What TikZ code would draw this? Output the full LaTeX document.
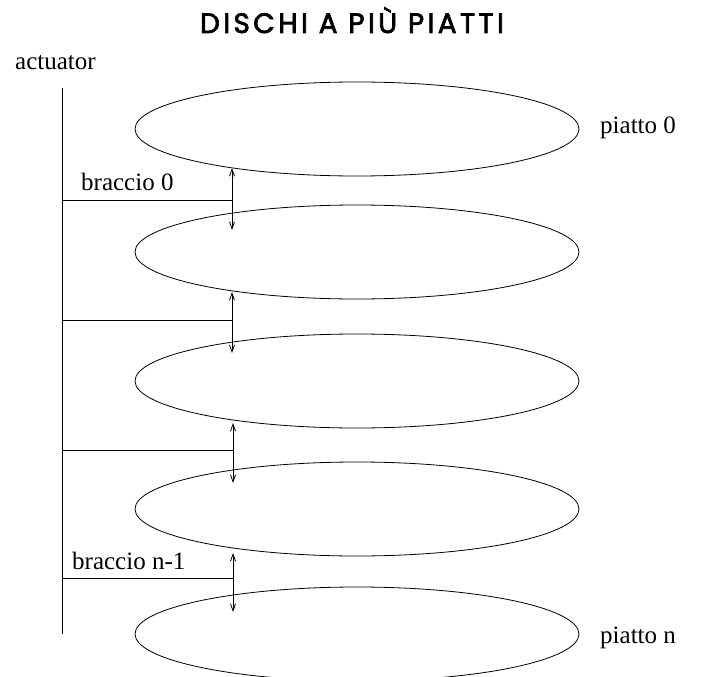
\documentclass[tikz,border=0pt]{standalone}
\usepackage{fontspec}
\setmainfont{Liberation Serif}
\newfontfamily\titlefont[LetterSpace=12,FakeBold=2.5]{Poppins}
\usetikzlibrary{shapes.geometric,arrows.meta}

\begin{document}
\begin{tikzpicture}[x=1pt, y=-1pt,
  disc/.style={draw, ellipse, line width=0.8pt, minimum width=444pt, minimum height=94pt, inner sep=0pt},
  arm/.style={line width=0.8pt},
  gap/.style={{Straight Barb[length=7pt,width=5pt]}-{Straight Barb[length=7pt,width=5pt]}, line width=0.8pt},
  lbl/.style={font=\fontsize{25}{30}\selectfont, anchor=base west, inner sep=0pt}
]
\useasboundingbox (0,0) rectangle (704,677);

\node[font=\titlefont\fontsize{28}{33}\selectfont, anchor=base, inner sep=0pt] (title) at (352,33) {DISCHI A PIÙ PIATTI};

% platters
\node[disc] (p0) at (357,129) {};
\node[disc] (p1) at (357,252) {};
\node[disc] (p2) at (357,381) {};
\node[disc] (p3) at (357,509) {};
\node[disc] (p4) at (357,634) {};

\node[lbl] (lp0) at (600,133) {piatto 0};
\node[lbl] (lpn) at (600,643) {piatto n};

% actuator and arms
\node[lbl] (act) at (15,70) {actuator};
\coordinate (atop) at (62,88);
\coordinate (abot) at (62,634);
\draw[arm] (atop) -- (abot);

\coordinate (a0) at (62,200);  \coordinate (h0) at (232,200);
\coordinate (a1) at (62,320);  \coordinate (h1) at (232,320);
\coordinate (a2) at (63,450);  \coordinate (h2) at (233,450);
\coordinate (a3) at (62,578);  \coordinate (h3) at (233,578);
\draw[arm] (a0) -- (h0);
\draw[arm] (a1) -- (h1);
\draw[arm] (a2) -- (h2);
\draw[arm] (a3) -- (h3);

\node[lbl] (b0) at (81,190) {braccio 0};
\node[lbl] (bn) at (72,569) {braccio n-1};

% head travel
\coordinate (g0a) at (232,168); \coordinate (g0b) at (232,230);
\coordinate (g1a) at (232,292); \coordinate (g1b) at (232,353);
\coordinate (g2a) at (233,423); \coordinate (g2b) at (233,483);
\coordinate (g3a) at (233,553); \coordinate (g3b) at (233,612);
\draw[gap] (g0a) -- (g0b);
\draw[gap] (g1a) -- (g1b);
\draw[gap] (g2a) -- (g2b);
\draw[gap] (g3a) -- (g3b);
\end{tikzpicture}
\end{document}
